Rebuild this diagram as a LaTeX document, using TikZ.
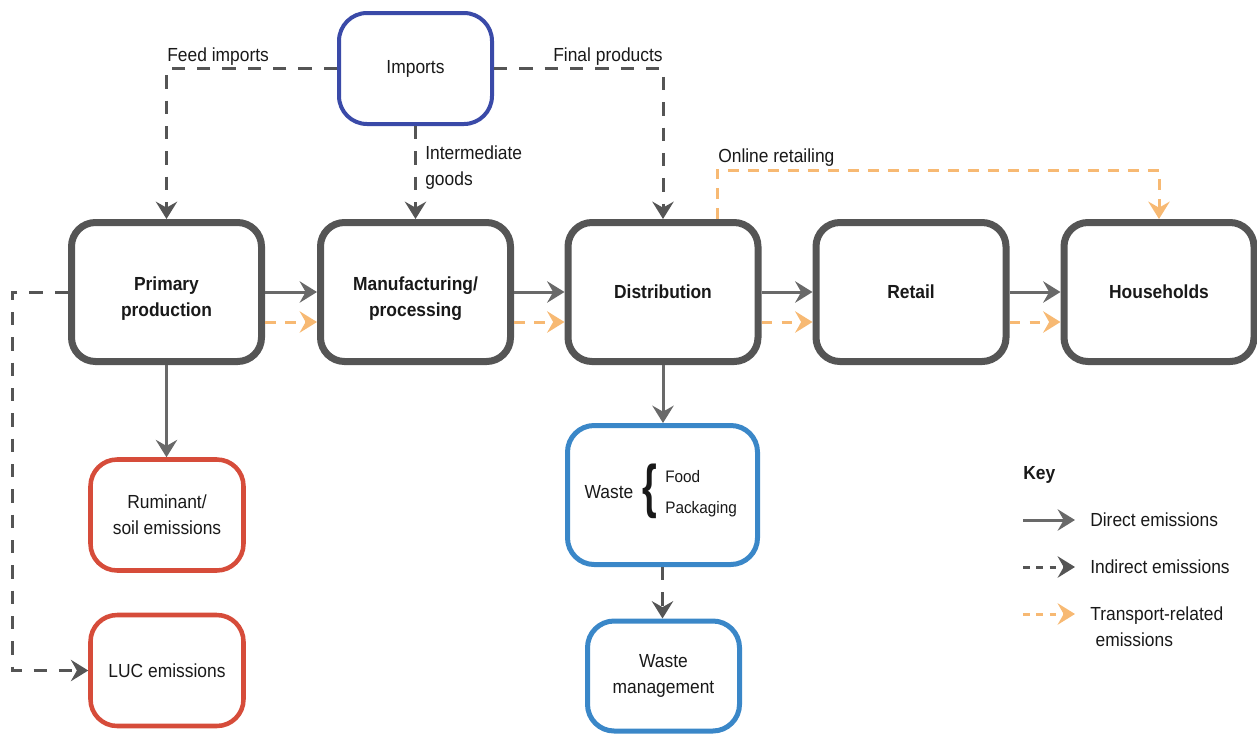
\documentclass[tikz,border=0pt]{standalone}
\usepackage{fontspec}
\setmainfont{Liberation Sans}[FakeStretch=0.92]
\usetikzlibrary{arrows.meta,calc}
\definecolor{boxgray}{RGB}{85,85,85}
\definecolor{arrgray}{RGB}{105,105,105}
\definecolor{dashgray}{RGB}{85,85,85}
\definecolor{impblue}{RGB}{58,74,168}
\definecolor{wasteblue}{RGB}{58,135,200}
\definecolor{emred}{RGB}{214,76,58}
\definecolor{transorange}{RGB}{247,185,115}
\definecolor{txt}{RGB}{25,25,25}
\begin{document}
\begin{tikzpicture}[x=0.75pt,y=-0.75pt,
  every node/.style={font=\fontsize{14.2pt}{19.5pt}\selectfont, text=txt, inner sep=0pt},
  mainbox/.style={draw=boxgray, line width=5.25pt, rounded corners=18pt,
    minimum width=142.5pt, minimum height=104.25pt, align=center,
    font=\fontsize{14.2pt}{19.5pt}\selectfont\bfseries},
  boxlabel/.style={align=center, font=\fontsize{14.2pt}{19.5pt}\selectfont\bfseries},
  impbox/.style={draw=impblue, line width=3pt, rounded corners=21pt,
    minimum width=114.75pt, minimum height=83.25pt, align=center},
  redbox/.style={draw=emred, line width=3.4pt, rounded corners=20pt,
    minimum width=114.75pt, minimum height=83.25pt, align=center},
  bluebox/.style={draw=wasteblue, line width=3.75pt, rounded corners=20pt, align=center},
  tip/.style={-{Stealth[length=13pt,width=16pt,inset=4.5pt]}},
  direct/.style={tip, draw=arrgray, line width=2.25pt},
  indirect/.style={tip, draw=dashgray, line width=2.25pt, dash pattern=on 10pt off 9pt},
  transport/.style={tip, draw=transorange, line width=2.25pt, dash pattern=on 8pt off 7pt},
  keyindirect/.style={tip, draw=dashgray, line width=2.25pt, dash pattern=on 5pt off 5pt},
  keytransport/.style={tip, draw=transorange, line width=2.25pt, dash pattern=on 5pt off 5pt},
  smalltext/.style={font=\fontsize{12.5pt}{16pt}\selectfont}
]
\useasboundingbox (0,0) rectangle (1257,733);

% main chain
\node[mainbox] (pp) at (166.5,292) {};
\node[boxlabel] (pplab) at (166.5,299) {Primary\\production};
\node[mainbox] (man) at (415.5,292) {};
\node[boxlabel] (manlab) at (415.5,299) {Manufacturing/\\processing};
\node[mainbox] (dist) at (663,292) {Distribution};
\node[mainbox] (ret) at (911,292) {Retail};
\node[mainbox] (hh) at (1159,292) {Households};

\node[impbox] (imp) at (415.5,68.5) {Imports};

\node[redbox] (rum) at (167,515) {Ruminant/\\soil emissions};
\node[redbox] (luc) at (167,670.5) {LUC emissions};

\node[bluebox, minimum width=142.5pt, minimum height=104.25pt] (waste) at (662.5,495) {};
\node (wlab) at (609,492) {Waste};
\node (brace) at (649.5,491.5) {\scalebox{0.7}[1]{\fontsize{44pt}{44pt}\selectfont\bfseries\{}};
\node[smalltext, anchor=west] (food) at (665,477) {Food};
\node[smalltext, anchor=west] (pack) at (665,509) {Packaging};

\node[bluebox, minimum width=114pt, minimum height=82.5pt] (wm) at (663.5,676) {Waste\\management};

% import connectors
\draw[indirect] (imp.west) -| (pp.north);
\draw[indirect] (imp.east) -| (dist.north);
\draw[indirect] (imp.south) -- (imp.south |- man.north);
\draw[transport] ($(dist.north)+(54,0)$) -- ++(0,-49) -| (hh.north);

% chain connectors
\draw[direct] (pp.east) -- (man.west);
\draw[direct] (man.east) -- (dist.west);
\draw[direct] (dist.east) -- (ret.west);
\draw[direct] (ret.east) -- (hh.west);
\draw[transport] ($(pp.east)+(0,30)$) -- ($(man.west)+(0,30)$);
\draw[transport] ($(man.east)+(0,30)$) -- ($(dist.west)+(0,30)$);
\draw[transport] ($(dist.east)+(0,30)$) -- ($(ret.west)+(0,30)$);
\draw[transport] ($(ret.east)+(0,30)$) -- ($(hh.west)+(0,30)$);

\draw[direct] (pp.south) -- (pp.south |- rum.north);
\draw[direct] (dist.south) -- (dist.south |- waste.north);
\draw[indirect] (waste.south) -- (waste.south |- wm.north);
\draw[indirect] (pp.west) -- ++(-56,0) |- (luc.west);

% labels
\node[anchor=base west] (lfeed) at (167,61) {Feed imports};
\node[anchor=base west] (lfinal) at (553,61) {Final products};
\node[anchor=west, align=left] (linter) at (425,168) {Intermediate\\goods};
\node[anchor=base west] (lonline) at (718,162) {Online retailing};

% key
\node[anchor=base west, font=\fontsize{14.2pt}{19.5pt}\selectfont\bfseries] (key) at (1023,479) {Key};
\coordinate (k1a) at (1023,520); \coordinate (k1b) at (1075,520);
\coordinate (k2a) at (1023,567); \coordinate (k2b) at (1075,567);
\coordinate (k3a) at (1023,614); \coordinate (k3b) at (1075,614);
\draw[direct] (k1a) -- (k1b);
\draw[keyindirect] (k2a) -- (k2b);
\draw[keytransport] (k3a) -- (k3b);
\node[anchor=west] (t1) at (1090,520) {Direct emissions};
\node[anchor=west] (t2) at (1090,567) {Indirect emissions};
\node[anchor=west, align=left] (t3) at (1090,627) {Transport-related\\\hspace*{4pt}emissions};
\end{tikzpicture}
\end{document}
